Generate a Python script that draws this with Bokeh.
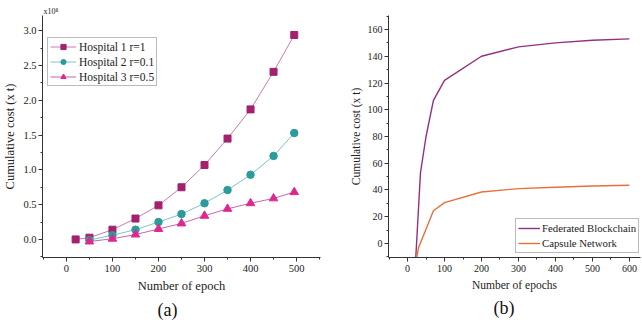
from bokeh.plotting import figure
from bokeh.layouts import row
from bokeh.models import Range1d, Legend, LegendItem, Title, FixedTicker, NumeralTickFormatter
from bokeh.embed import file_html
from bokeh.resources import INLINE

# ---- data (a) ----
h1_epochs = [20, 50, 100, 150, 200, 250, 300, 350, 400, 450, 495]
h1_cost = [0.0, 0.025, 0.14, 0.30, 0.49, 0.75, 1.07, 1.45, 1.87, 2.41, 2.94]
h23_epochs = [50, 100, 150, 200, 250, 300, 350, 400, 450, 495]
h2_cost = [-0.01, 0.06, 0.14, 0.25, 0.365, 0.52, 0.71, 0.93, 1.20, 1.53]
h3_cost = [-0.03, 0.01, 0.07, 0.15, 0.23, 0.34, 0.44, 0.52, 0.59, 0.68]
a_labels = ["Hospital 1 r=1", "Hospital 2 r=0.1", "Hospital 3 r=0.5"]

# ---- data (b) ----
fb_epochs = [20, 35, 50, 70, 100, 200, 300, 400, 500, 600]
fb_cost = [-22, 53, 80, 107, 122, 140, 147, 150, 152, 153]
cn_epochs = [20, 30, 70, 100, 200, 300, 400, 500, 600]
cn_cost = [-18, -3, 24.5, 30.5, 38.5, 41, 42, 43, 43.5]
b_labels = ["Federated Blockchain", "Capsule Network"]

FONT = "'Liberation Serif', 'Times New Roman', serif"
AX = "#333333"
TXT = "#222222"


def style_axes(p, tick_size, label_size):
    for ax in (p.xaxis[0], p.yaxis[0]):
        ax.axis_line_color = AX
        ax.major_tick_line_color = AX
        ax.minor_tick_line_color = AX
        ax.major_tick_in = 0
        ax.major_tick_out = 4
        ax.minor_tick_in = 0
        ax.minor_tick_out = 2
        ax.major_label_text_font = FONT
        ax.major_label_text_font_size = tick_size
        ax.major_label_text_color = TXT
        ax.axis_label_text_font = FONT
        ax.axis_label_text_font_size = label_size
        ax.axis_label_text_font_style = "normal"
        ax.axis_label_text_color = TXT
    p.xaxis[0].major_label_standoff = 3
    p.xaxis[0].axis_label_standoff = 4
    p.yaxis[0].major_label_standoff = 2
    p.yaxis[0].axis_label_standoff = 3
    p.grid.visible = False
    p.outline_line_color = None


# ---------- panel (a) ----------
pa = figure(width=321, height=322, x_range=Range1d(-52, 552), y_range=Range1d(-0.26, 3.22),
            output_backend="svg", toolbar_location=None,
            min_border_left=41, min_border_right=1, min_border_top=14, min_border_bottom=64,
            x_axis_label="Number of epoch", y_axis_label="Cumulative cost (x t)")
style_axes(pa, "10.5px", "12.5px")
pa.xaxis.ticker = FixedTicker(ticks=[0, 100, 200, 300, 400, 500],
                              minor_ticks=[-50, 50, 150, 250, 350, 450, 550])
pa.yaxis.ticker = FixedTicker(ticks=[0, 0.5, 1.0, 1.5, 2.0, 2.5, 3.0],
                              minor_ticks=[-0.25, 0.25, 0.75, 1.25, 1.75, 2.25, 2.75])
pa.yaxis.formatter = NumeralTickFormatter(format="0.0")

# scale factor shown above the y axis
pa.title.text = "x10\u2078"
pa.title.align = "left"
pa.title.offset = 1
pa.title.standoff = 0
pa.title.text_font = FONT
pa.title.text_font_size = "8px"
pa.title.text_font_style = "normal"
pa.title.text_color = TXT

l1 = pa.line(h1_epochs, h1_cost, line_color="#c77bb3", line_width=1)
m1 = pa.scatter(h1_epochs, h1_cost, marker="square", size=7, fill_color="#a3216f", line_color="#a3216f")
l2 = pa.line(h23_epochs, h2_cost, line_color="#7cc4c4", line_width=1)
m2 = pa.scatter(h23_epochs, h2_cost, marker="circle", size=7.5, fill_color="#2b9c9b", line_color="#2b9c9b")
l3 = pa.line(h23_epochs, h3_cost, line_color="#c466ad", line_width=1)
m3 = pa.scatter(h23_epochs, h3_cost, marker="triangle", size=8.5, fill_color="#e0278f", line_color="#e0278f")

leg_a = Legend(items=[LegendItem(label=a_labels[0], renderers=[l1, m1]),
                      LegendItem(label=a_labels[1], renderers=[l2, m2]),
                      LegendItem(label=a_labels[2], renderers=[l3, m3])],
               location=(5, 171), padding=2, spacing=2, margin=0,
               label_height=13, glyph_height=13, glyph_width=26, label_standoff=3,
               label_text_font=FONT, label_text_font_size="11.5px", label_text_color=TXT,
               border_line_color="#777777", background_fill_alpha=1)
pa.add_layout(leg_a, "center")

pa.add_layout(Title(text="(a)", align="left", offset=115, text_font=FONT,
                    text_font_size="18px", text_font_style="normal", text_color="#111111",
                    standoff=4), "below")

# ---------- panel (b) ----------
pb = figure(width=321, height=322, x_range=Range1d(-51.5, 630), y_range=Range1d(-10.5, 170.5),
            output_backend="svg", toolbar_location=None,
            min_border_left=67, min_border_right=2, min_border_top=15, min_border_bottom=65,
            x_axis_label="Number of epochs", y_axis_label="Cumulative cost (x t)")
style_axes(pb, "10px", "11.5px")
pb.xaxis.ticker = FixedTicker(ticks=[0, 100, 200, 300, 400, 500, 600],
                              minor_ticks=[-50, 50, 150, 250, 350, 450, 550])
pb.yaxis.ticker = FixedTicker(ticks=[0, 20, 40, 60, 80, 100, 120, 140, 160],
                              minor_ticks=[-10, 10, 30, 50, 70, 90, 110, 130, 150, 170])

fb = pb.line(fb_epochs, fb_cost, line_color="#93307f", line_width=1.4)
cn = pb.line(cn_epochs, cn_cost, line_color="#e8703a", line_width=1.4)

leg_b = Legend(items=[LegendItem(label=b_labels[0], renderers=[fb]),
                      LegendItem(label=b_labels[1], renderers=[cn])],
               location=(127, 4), padding=2, spacing=1, margin=0,
               label_height=14, glyph_height=14, glyph_width=22, label_standoff=2,
               label_text_font=FONT, label_text_font_size="10.75px", label_text_color=TXT,
               border_line_color="#777777", background_fill_alpha=1)
pb.add_layout(leg_b, "center")
pb.add_layout(Title(text="(b)", align="left", offset=105, text_font=FONT,
                    text_font_size="18px", text_font_style="normal", text_color="#111111",
                    standoff=4), "below")

layout = row(pa, pb)
open("out.html", "w").write(file_html(layout, INLINE))
